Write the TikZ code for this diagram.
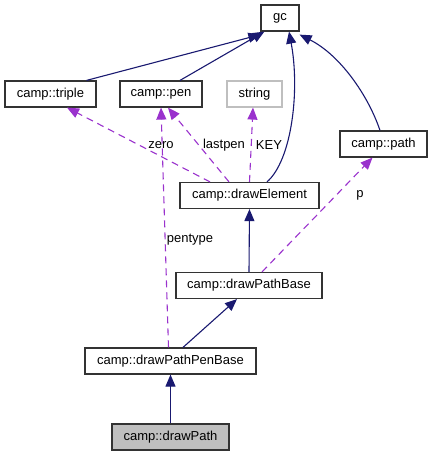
\documentclass[tikz,border=0pt]{standalone}
\usepackage{fontspec}
\setmainfont{Liberation Sans}
\usetikzlibrary{arrows.meta}
\definecolor{navyedge}{HTML}{191970}
\definecolor{purpedge}{HTML}{9A32CD}
\definecolor{boxgray}{HTML}{BFBFBF}
\begin{document}
\begin{tikzpicture}[x=1pt,y=-1pt,
  cls/.style={draw=black!80, line width=1.2pt, fill=white, minimum height=26pt, inner sep=0pt, font=\fontsize{13}{15}\selectfont},
  inherit/.style={navyedge, line width=1.1pt, -{Triangle[length=12pt,width=10pt]}},
  member/.style={purpedge, line width=1.1pt, dash pattern=on 7pt off 5pt, -{Triangle[length=12pt,width=10pt]}},
  lbl/.style={font=\fontsize{13}{15}\selectfont, inner sep=0pt}]
\useasboundingbox (0,0) rectangle (433,456);
\node[cls, minimum width=38pt] (gc) at (280,18) {gc};
\node[cls, minimum width=91pt] (triple) at (50.5,94) {camp::triple};
\node[cls, minimum width=82pt] (pen) at (161,94) {camp::pen};
\node[cls, minimum width=55pt, draw=boxgray] (string) at (254.5,94) {string};
\node[cls, minimum width=87pt] (path) at (383.5,144) {camp::path};
\node[cls, minimum width=139pt] (dE) at (249.5,195.5) {camp::drawElement};
\node[cls, minimum width=146pt] (dPB) at (249,285.5) {camp::drawPathBase};
\node[cls, minimum width=171pt] (dPPB) at (170.5,361) {camp::drawPathPenBase};
\node[cls, minimum width=117pt, fill=boxgray] (dP) at (170.5,437) {camp::drawPath};

% inheritance
\draw[inherit] (triple.north) ++(36,0) -- ([yshift=-3pt]gc.south west);
\draw[inherit] ([xshift=19pt]pen.north) -- ([xshift=4pt]gc.south west);
\draw[inherit] ([xshift=17.5pt]dE.north) .. controls (292,160) and (300,90) .. ([xshift=9pt]gc.south);
\draw[inherit] ([xshift=-3.5pt]path.north) .. controls (368,95) and (340,55) .. ([yshift=-3pt]gc.south east);
\draw[inherit] (dPB.north) -- (dE.south);
\draw[inherit] ([xshift=12.5pt]dPPB.north) -- ([xshift=-12pt]dPB.south);
\draw[inherit] (dP.north) -- (dPPB.south);

% members
\draw[member] ([xshift=-39.5pt]dE.north) -- ([xshift=16.5pt]triple.south);
\draw[member] ([xshift=-20.5pt]dE.north) -- ([xshift=7pt]pen.south);
\draw[member] (dE.north) -- ([xshift=-1.5pt]string.south);
\draw[member] ([xshift=-2pt]dPPB.north) -- ([xshift=0pt]pen.south);
\draw[member] ([xshift=13pt]dPB.north) -- ([xshift=-11pt]path.south);

\node[lbl] (lzero) at (161,145) {zero};
\node[lbl] (llast) at (224,145) {lastpen};
\node[lbl] (lkey) at (269,145) {KEY};
\node[lbl] (lpen) at (190,240) {pentype};
\node[lbl] (lp) at (360,195) {p};
\end{tikzpicture}
\end{document}
